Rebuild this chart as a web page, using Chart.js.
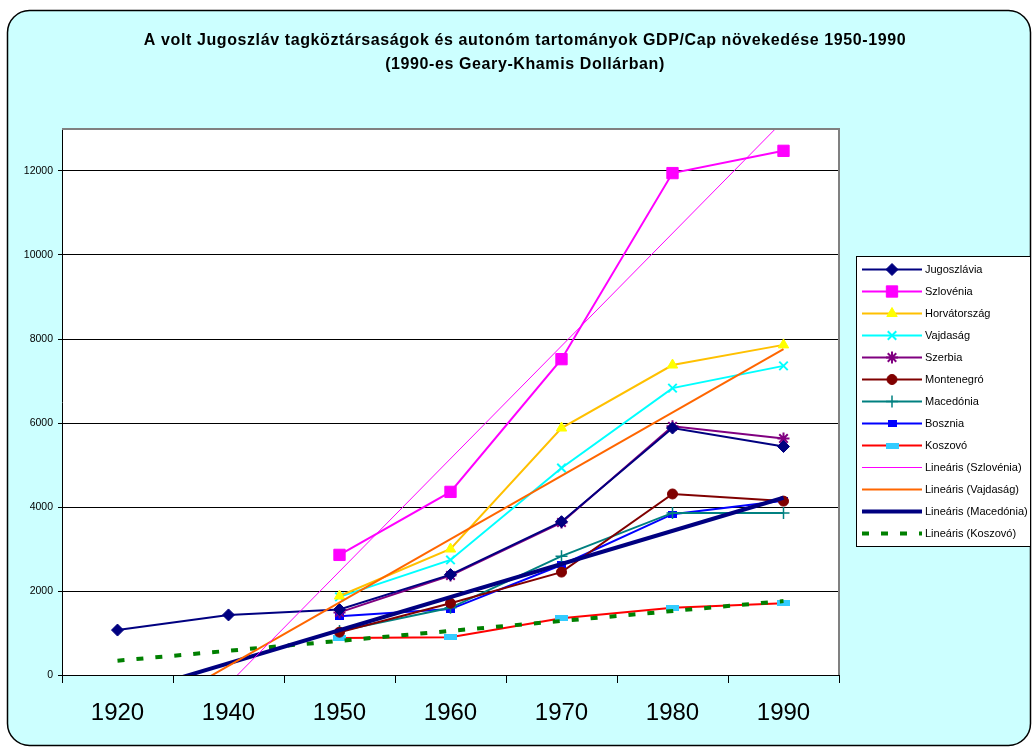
<!DOCTYPE html>
<html>
<head>
<meta charset="utf-8">
<script src="https://cdn.jsdelivr.net/npm/chart.js@4"></script>
<style>
html, body { margin: 0; padding: 0; background: #fff; }
canvas { display: block; }
</style>
</head>
<body>
<canvas id="chart" width="1033" height="749"></canvas>
<script>
// categories (x axis)
const years = ['1920', '1940', '1950', '1960', '1970', '1980', '1990'];

// GDP/Cap series
const jugoszlavia  = [1070, 1430, 1560, 2390, 3650, 5880, 5440];
const szlovenia    = [null, null, 2860, 4360, 7520, 11950, 12480];
const horvatorszag = [null, null, 1880, 3000, 5880, 7380, 7860];
const vajdasag     = [null, null, 1860, 2740, 4930, 6830, 7360];
const szerbia      = [null, null, 1490, 2370, 3630, 5920, 5630];
const montenegro   = [null, null, 1020, 1710, 2450, 4310, 4140];
const macedonia    = [null, null, 1050, 1600, 2830, 3860, 3860];
const bosznia      = [null, null, 1400, 1570, 2620, 3830, 4150];
const koszovo      = [null, null, 880, 900, 1350, 1600, 1710];

// linear trend lines: value at 1920 and 1990
const trendSzlovenia = [-2900, null, null, null, null, null, 13200];
const trendVajdasag  = [-1290, null, null, null, null, null, 7760];
const trendMacedonia = [-510, null, null, null, null, null, 4220];
const trendKoszovo   = [340, null, null, null, null, null, 1760];

const yTicks = [0, 2000, 4000, 6000, 8000, 10000, 12000];

const titleLines = [
    'A volt Jugoszláv tagköztársaságok és autonóm tartományok GDP/Cap növekedése 1950-1990',
    '(1990-es Geary-Khamis Dollárban)'
];

const FONT = 'Arial, "Liberation Sans", sans-serif';

function barMarker(w, h, color) {
    const c = document.createElement('canvas');
    c.width = w;
    c.height = h;
    const g = c.getContext('2d');
    g.fillStyle = color;
    g.fillRect(0, 0, w, h);
    return c;
}

function series(label, data, color, style, radius, fill, bw) {
    return {
        label, data,
        borderColor: color,
        borderWidth: 2,
        pointStyle: style,
        pointRadius: radius,
        pointHoverRadius: radius,
        pointBackgroundColor: fill || color,
        pointBorderColor: fill || color,
        pointBorderWidth: bw || 1,
        order: 1
    };
}

function trend(label, data, color, width, dash) {
    return {
        label, data,
        borderColor: color,
        borderWidth: width,
        borderDash: dash || [],
        pointRadius: 0,
        pointStyle: false,
        spanGaps: true,
        order: 0
    };
}

const datasets = [
    series('Jugoszlávia', jugoszlavia, '#000080', 'rectRot', 6),
    series('Szlovénia', szlovenia, '#FF00FF', 'rect', 8),
    series('Horvátország', horvatorszag, '#FFC000', 'triangle', 6, '#FFFF00'),
    series('Vajdaság', vajdasag, '#00FFFF', 'crossRot', 6, null, 2),
    series('Szerbia', szerbia, '#800080', 'star', 6, null, 2),
    series('Montenegró', montenegro, '#800000', 'circle', 5),
    series('Macedónia', macedonia, '#008080', 'cross', 6, null, 1.5),
    series('Bosznia', bosznia, '#0000FF', barMarker(9, 7, '#0000FF'), 4),
    series('Koszovó', koszovo, '#FF0000', barMarker(13, 6, '#33CCFF'), 4),
    trend('Lineáris (Szlovénia)', trendSzlovenia, '#FF00FF', 1),
    trend('Lineáris (Vajdaság)', trendVajdasag, '#FF6600', 2),
    trend('Lineáris (Macedónia)', trendMacedonia, '#000080', 4),
    trend('Lineáris (Koszovó)', trendKoszovo, '#008000', 4, [7, 12])
];

const frame = {
    id: 'frame',
    beforeDraw(chart) {
        const ctx = chart.ctx;
        const a = chart.chartArea;
        ctx.save();
        ctx.fillStyle = '#fff';
        ctx.fillRect(0, 0, chart.width, chart.height);
        ctx.beginPath();
        ctx.roundRect(7.5, 10.5, 1023, 735, 22);
        ctx.fillStyle = '#CCFFFF';
        ctx.fill();
        ctx.strokeStyle = '#000';
        ctx.lineWidth = 1.5;
        ctx.stroke();
        ctx.fillStyle = '#fff';
        ctx.fillRect(a.left, a.top, a.right - a.left, a.bottom - a.top);

        // title
        ctx.fillStyle = '#000';
        ctx.font = 'bold 16px ' + FONT;
        ctx.letterSpacing = '0.6px';
        ctx.textAlign = 'center';
        ctx.textBaseline = 'middle';
        titleLines.forEach((t, i) => ctx.fillText(t, 525, 41 + i * 24));
        ctx.restore();
    },
    afterDraw(chart) {
        const ctx = chart.ctx;
        const a = chart.chartArea;
        ctx.save();
        // plot border
        ctx.strokeStyle = '#808080';
        ctx.lineWidth = 2;
        ctx.beginPath();
        ctx.moveTo(a.left, a.top);
        ctx.lineTo(a.right, a.top);
        ctx.lineTo(a.right, a.bottom);
        ctx.stroke();

        // legend
        const lx = 856, ly = 256, lw = 175, lh = 291;
        ctx.fillStyle = '#fff';
        ctx.fillRect(lx, ly, lw, lh);
        ctx.strokeStyle = '#000';
        ctx.lineWidth = 1;
        ctx.strokeRect(lx + 0.5, ly + 0.5, lw - 1, lh - 1);
        ctx.font = '11px ' + FONT;
        ctx.textBaseline = 'middle';
        chart.data.datasets.forEach((ds, i) => {
            const y = ly + 13.5 + i * 22;
            ctx.strokeStyle = ds.borderColor;
            ctx.lineWidth = ds.borderWidth;
            ctx.setLineDash(ds.borderDash || []);
            ctx.beginPath();
            ctx.moveTo(862, y);
            ctx.lineTo(922, y);
            ctx.stroke();
            ctx.setLineDash([]);
            if (ds.pointRadius > 0) {
                ctx.fillStyle = ds.pointBackgroundColor;
                ctx.strokeStyle = ds.pointBorderColor;
                ctx.lineWidth = ds.pointBorderWidth;
                Chart.helpers.drawPoint(ctx, {
                    pointStyle: ds.pointStyle,
                    rotation: 0,
                    radius: ds.pointRadius,
                    borderWidth: ds.pointBorderWidth
                }, 892, y);
            }
            ctx.fillStyle = '#000';
            ctx.fillText(ds.label, 925, y + 0.5);
        });
        ctx.restore();
    }
};

new Chart(document.getElementById('chart'), {
    type: 'line',
    data: { labels: years, datasets },
    options: {
        responsive: false,
        animation: false,
        layout: { padding: { left: 0, right: 194, top: 129, bottom: 0 } },
        plugins: {
            legend: { display: false },
            tooltip: { enabled: false },
            title: { display: false }
        },
        scales: {
            x: {
                offset: true,
                afterFit: s => { s.height = 74; },
                grid: { offset: true, drawOnChartArea: false, color: '#000', tickLength: 8 },
                border: { color: '#000', width: 1 },
                ticks: {
                    color: '#000',
                    padding: 16,
                    maxRotation: 0,
                    font: { family: FONT, size: 24 }
                }
            },
            y: {
                min: 0,
                max: 13000,
                afterFit: s => { s.width = 62; },
                afterBuildTicks: s => { s.ticks = yTicks.map(v => ({ value: v })); },
                grid: { color: '#000', tickLength: 4 },
                border: { color: '#000', width: 1 },
                ticks: {
                    color: '#000',
                    padding: 5,
                    callback: v => String(v),
                    font: { family: FONT, size: 10.5 }
                }
            }
        }
    },
    plugins: [frame]
});
</script>
</body>
</html>
